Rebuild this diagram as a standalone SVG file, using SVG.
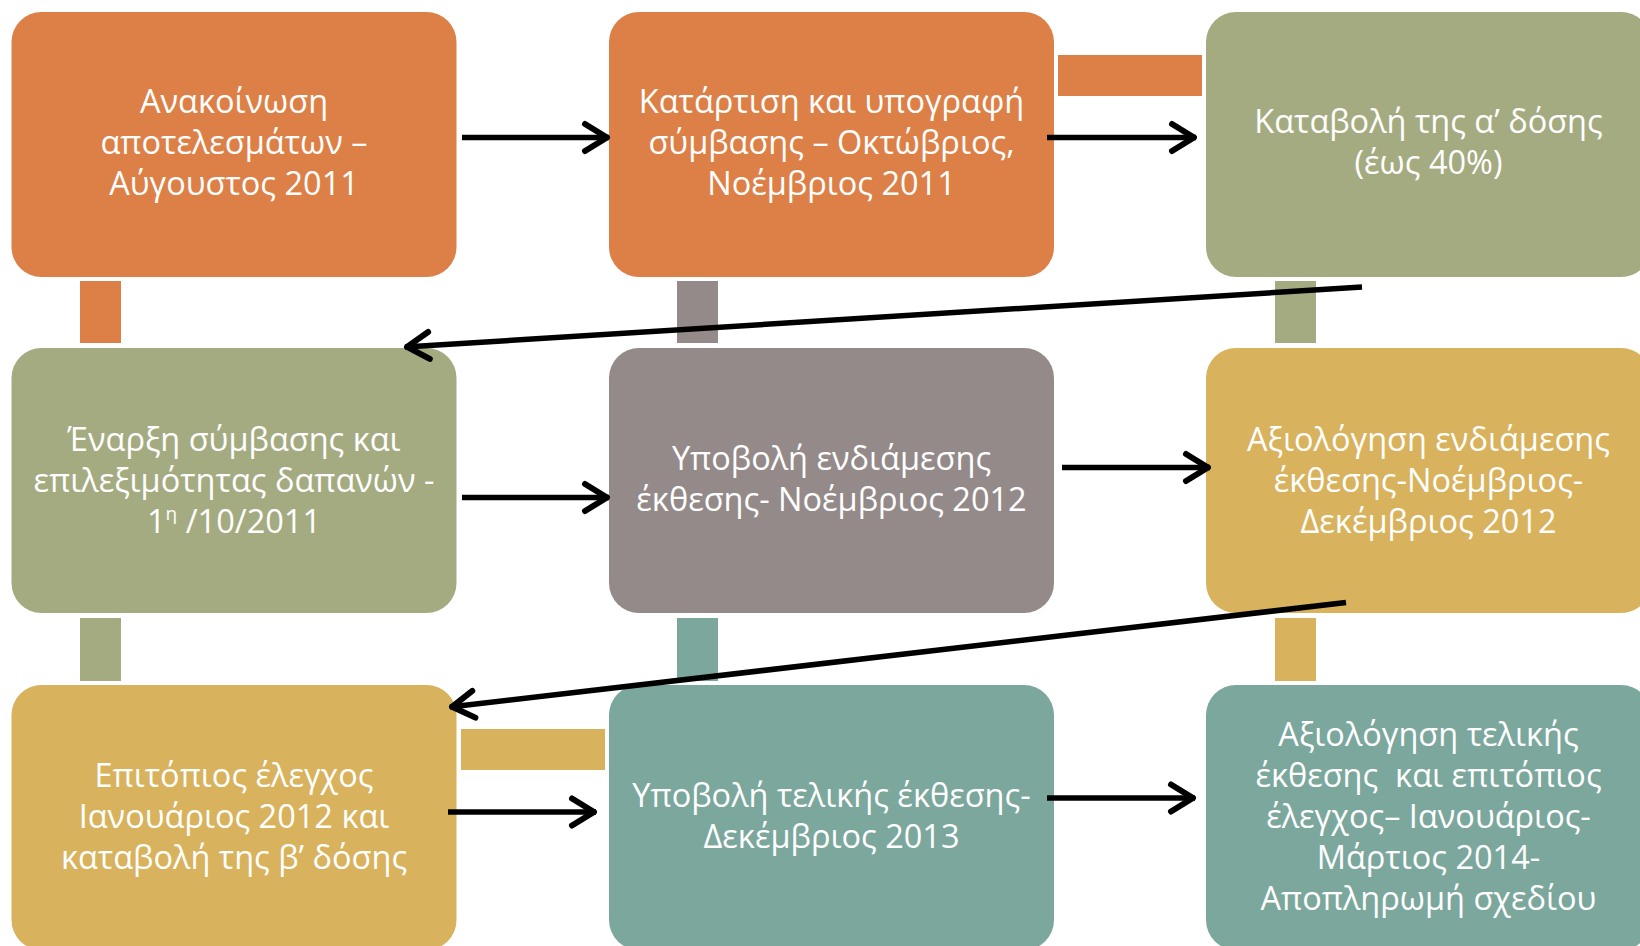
<svg xmlns="http://www.w3.org/2000/svg" width="1640" height="946" viewBox="0 0 1640 946">
<defs>
<style>
.orange{fill:#DD8047}
.olive{fill:#A5AB81}
.gray{fill:#948A89}
.gold{fill:#D8B25C}
.teal{fill:#7BA79D}
.lbl{font-family:"Open Sans","Noto Sans","DejaVu Sans",sans-serif;font-size:32.5px;fill:#FFFFFF;text-anchor:middle}
.arr{stroke:#000;stroke-width:5.5;fill:none;marker-end:url(#ah)}
</style>
<marker id="ah" markerUnits="userSpaceOnUse" viewBox="-30 -18 36 36" refX="0" refY="0" markerWidth="36" markerHeight="36" orient="auto" overflow="visible">
<path d="M-24,-13.5 L-2,0 L-24,13.5" fill="none" stroke="#000" stroke-width="6" stroke-linecap="round" stroke-linejoin="round"/>
</marker>
</defs>
<rect width="1640" height="946" fill="#FFFFFF"/>
<g id="bars">
<rect class="orange" x="80" y="281" width="41" height="62"/>
<rect class="gray" x="677" y="281" width="41" height="62"/>
<rect class="olive" x="1275" y="281" width="41" height="62"/>
<rect class="olive" x="80" y="618" width="41" height="63"/>
<rect class="teal" x="677" y="618" width="41" height="63"/>
<rect class="gold" x="1275" y="618" width="41" height="63"/>
<rect class="orange" x="1058" y="55" width="144" height="41"/>
<rect class="gold" x="461" y="729" width="144" height="41"/>
</g>
<g id="n1">
<rect class="orange" x="11.5" y="12" width="445" height="265" rx="30"/>
<text class="lbl"><tspan x="234" y="113">Ανακοίνωση</tspan><tspan x="234" y="154">αποτελεσμάτων –</tspan><tspan x="234" y="195">Αύγουστος 2011</tspan></text>
</g>
<g id="n2">
<rect class="orange" x="609" y="12" width="445" height="265" rx="30"/>
<text class="lbl"><tspan x="831.5" y="113">Κατάρτιση και υπογραφή</tspan><tspan x="831.5" y="154">σύμβασης – Οκτώβριος,</tspan><tspan x="831.5" y="195">Νοέμβριος 2011</tspan></text>
</g>
<g id="n3">
<rect class="olive" x="1206" y="12" width="445" height="265" rx="30"/>
<text class="lbl"><tspan x="1428.5" y="133">Καταβολή της α’ δόσης</tspan><tspan x="1428.5" y="174">(έως 40%)</tspan></text>
</g>
<g id="n4">
<rect class="olive" x="11.5" y="348" width="445" height="265" rx="30"/>
<text class="lbl"><tspan x="234" y="451">Έναρξη σύμβασης και</tspan><tspan x="234" y="492">επιλεξιμότητας δαπανών -</tspan><tspan x="234" y="533">1<tspan font-size="19" dy="-13">η</tspan><tspan dy="13"> /10/2011</tspan></tspan></text>
</g>
<g id="n5">
<rect class="gray" x="609" y="348" width="445" height="265" rx="30"/>
<text class="lbl"><tspan x="831.5" y="470">Υποβολή ενδιάμεσης</tspan><tspan x="831.5" y="511">έκθεσης- Νοέμβριος 2012</tspan></text>
</g>
<g id="n6">
<rect class="gold" x="1206" y="348" width="445" height="265" rx="30"/>
<text class="lbl"><tspan x="1428.5" y="451">Αξιολόγηση ενδιάμεσης</tspan><tspan x="1428.5" y="492">έκθεσης-Νοέμβριος-</tspan><tspan x="1428.5" y="533">Δεκέμβριος 2012</tspan></text>
</g>
<g id="n7">
<rect class="gold" x="11.5" y="685" width="445" height="265" rx="30"/>
<text class="lbl"><tspan x="234" y="787">Επιτόπιος έλεγχος</tspan><tspan x="234" y="828">Ιανουάριος 2012 και</tspan><tspan x="234" y="869">καταβολή της β’ δόσης</tspan></text>
</g>
<g id="n8">
<rect class="teal" x="609" y="685" width="445" height="265" rx="30"/>
<text class="lbl"><tspan x="831.5" y="807">Υποβολή τελικής έκθεσης-</tspan><tspan x="831.5" y="848">Δεκέμβριος 2013</tspan></text>
</g>
<g id="n9">
<rect class="teal" x="1206" y="685" width="445" height="265" rx="30"/>
<text class="lbl"><tspan x="1428.5" y="746">Αξιολόγηση τελικής</tspan><tspan x="1428.5" y="787">έκθεσης&#160; και επιτόπιος</tspan><tspan x="1428.5" y="828">έλεγχος– Ιανουάριος-</tspan><tspan x="1428.5" y="869">Μάρτιος 2014-</tspan><tspan x="1428.5" y="910">Αποπληρωμή σχεδίου</tspan></text>
</g>
<g id="connectors">
<line class="arr" x1="462" y1="137.5" x2="609" y2="137.5"/>
<line class="arr" x1="1047" y1="137.5" x2="1196" y2="137.5"/>
<line class="arr" x1="1362" y1="287" x2="405" y2="347"/>
<line class="arr" x1="462" y1="497.5" x2="609" y2="497.5"/>
<line class="arr" x1="1062" y1="467.5" x2="1210" y2="467.5"/>
<line class="arr" x1="1346" y1="602.5" x2="450" y2="707"/>
<line class="arr" x1="448" y1="812" x2="596" y2="812"/>
<line class="arr" x1="1047" y1="798" x2="1195" y2="798"/>
</g>
</svg>
